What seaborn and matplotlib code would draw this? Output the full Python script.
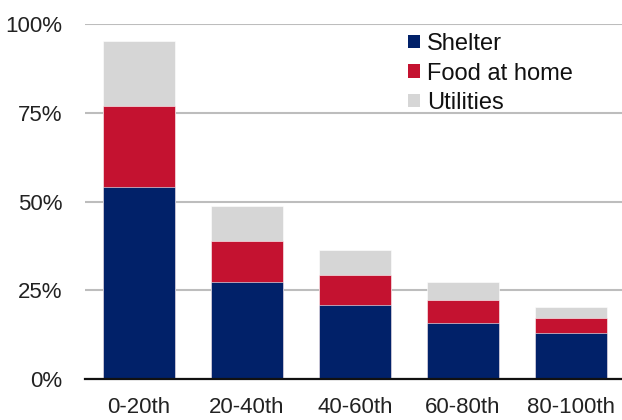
import matplotlib
matplotlib.use("Agg")
import matplotlib.pyplot as plt
import seaborn as sns
import numpy as np
import pandas as pd
from matplotlib.patches import Patch
from matplotlib.ticker import FuncFormatter

categories = ["0-20th", "20-40th", "40-60th", "60-80th", "80-100th"]
shelter = [54.0, 27.4, 20.8, 15.7, 12.9]
food_at_home = [22.9, 11.6, 8.5, 6.6, 4.3]
utilities = [18.2, 9.8, 6.9, 5.0, 3.1]

series_names = ["Shelter", "Food at home", "Utilities"]
colors = {"Shelter": "#012169", "Food at home": "#C41230", "Utilities": "#D6D6D6"}

sns.set_theme(style="white")
plt.rcParams["font.family"] = ["Liberation Sans", "DejaVu Sans"]

fig = plt.figure(figsize=(6.22, 4.20), dpi=100)
ax = fig.add_axes([85 / 622, 1 - 379 / 420, 540 / 622, 355 / 420])

s = np.array(shelter)
f = np.array(food_at_home)
u = np.array(utilities)
layers = [("Utilities", s + f + u), ("Food at home", s + f), ("Shelter", s)]
for name, vals in layers:
    df = pd.DataFrame({"cat": categories, "val": vals})
    sns.barplot(data=df, x="cat", y="val", color=colors[name], width=0.66,
                saturation=1, ax=ax, edgecolor="white", linewidth=0.4, zorder=3)

ax.set_ylim(0, 100)
ax.set_xlim(-0.5, 4.5)
ax.set_yticks([0, 25, 50, 75, 100])
ax.yaxis.set_major_formatter(FuncFormatter(lambda v, p: f"{int(v)}%"))
ax.grid(axis="y", color="#BDBDBD", linewidth=1.5, zorder=0)
ax.grid(axis="x", visible=False)
for side in ["top", "right", "left"]:
    ax.spines[side].set_visible(False)
ax.spines["bottom"].set_color("#111111")
ax.spines["bottom"].set_linewidth(1.6)
ax.spines["bottom"].set_zorder(5)
ax.set_xlabel("")
ax.set_ylabel("")
ax.tick_params(axis="both", length=0, labelsize=16, colors="#222222")
ax.tick_params(axis="y", pad=16.5)
ax.tick_params(axis="x", pad=13)

handles = [Patch(facecolor=colors[n], edgecolor="none") for n in series_names]
leg = fig.legend(handles, series_names, loc="upper left",
                 bbox_to_anchor=(408 / 622, 1 - 33 / 420),
                 frameon=False, fontsize=17, handlelength=0.5, handleheight=0.5,
                 handletextpad=0.3, labelspacing=0.32, borderpad=0, borderaxespad=0)
for t in leg.get_texts():
    t.set_color("#111111")

fig.savefig("out.png", dpi=100)
